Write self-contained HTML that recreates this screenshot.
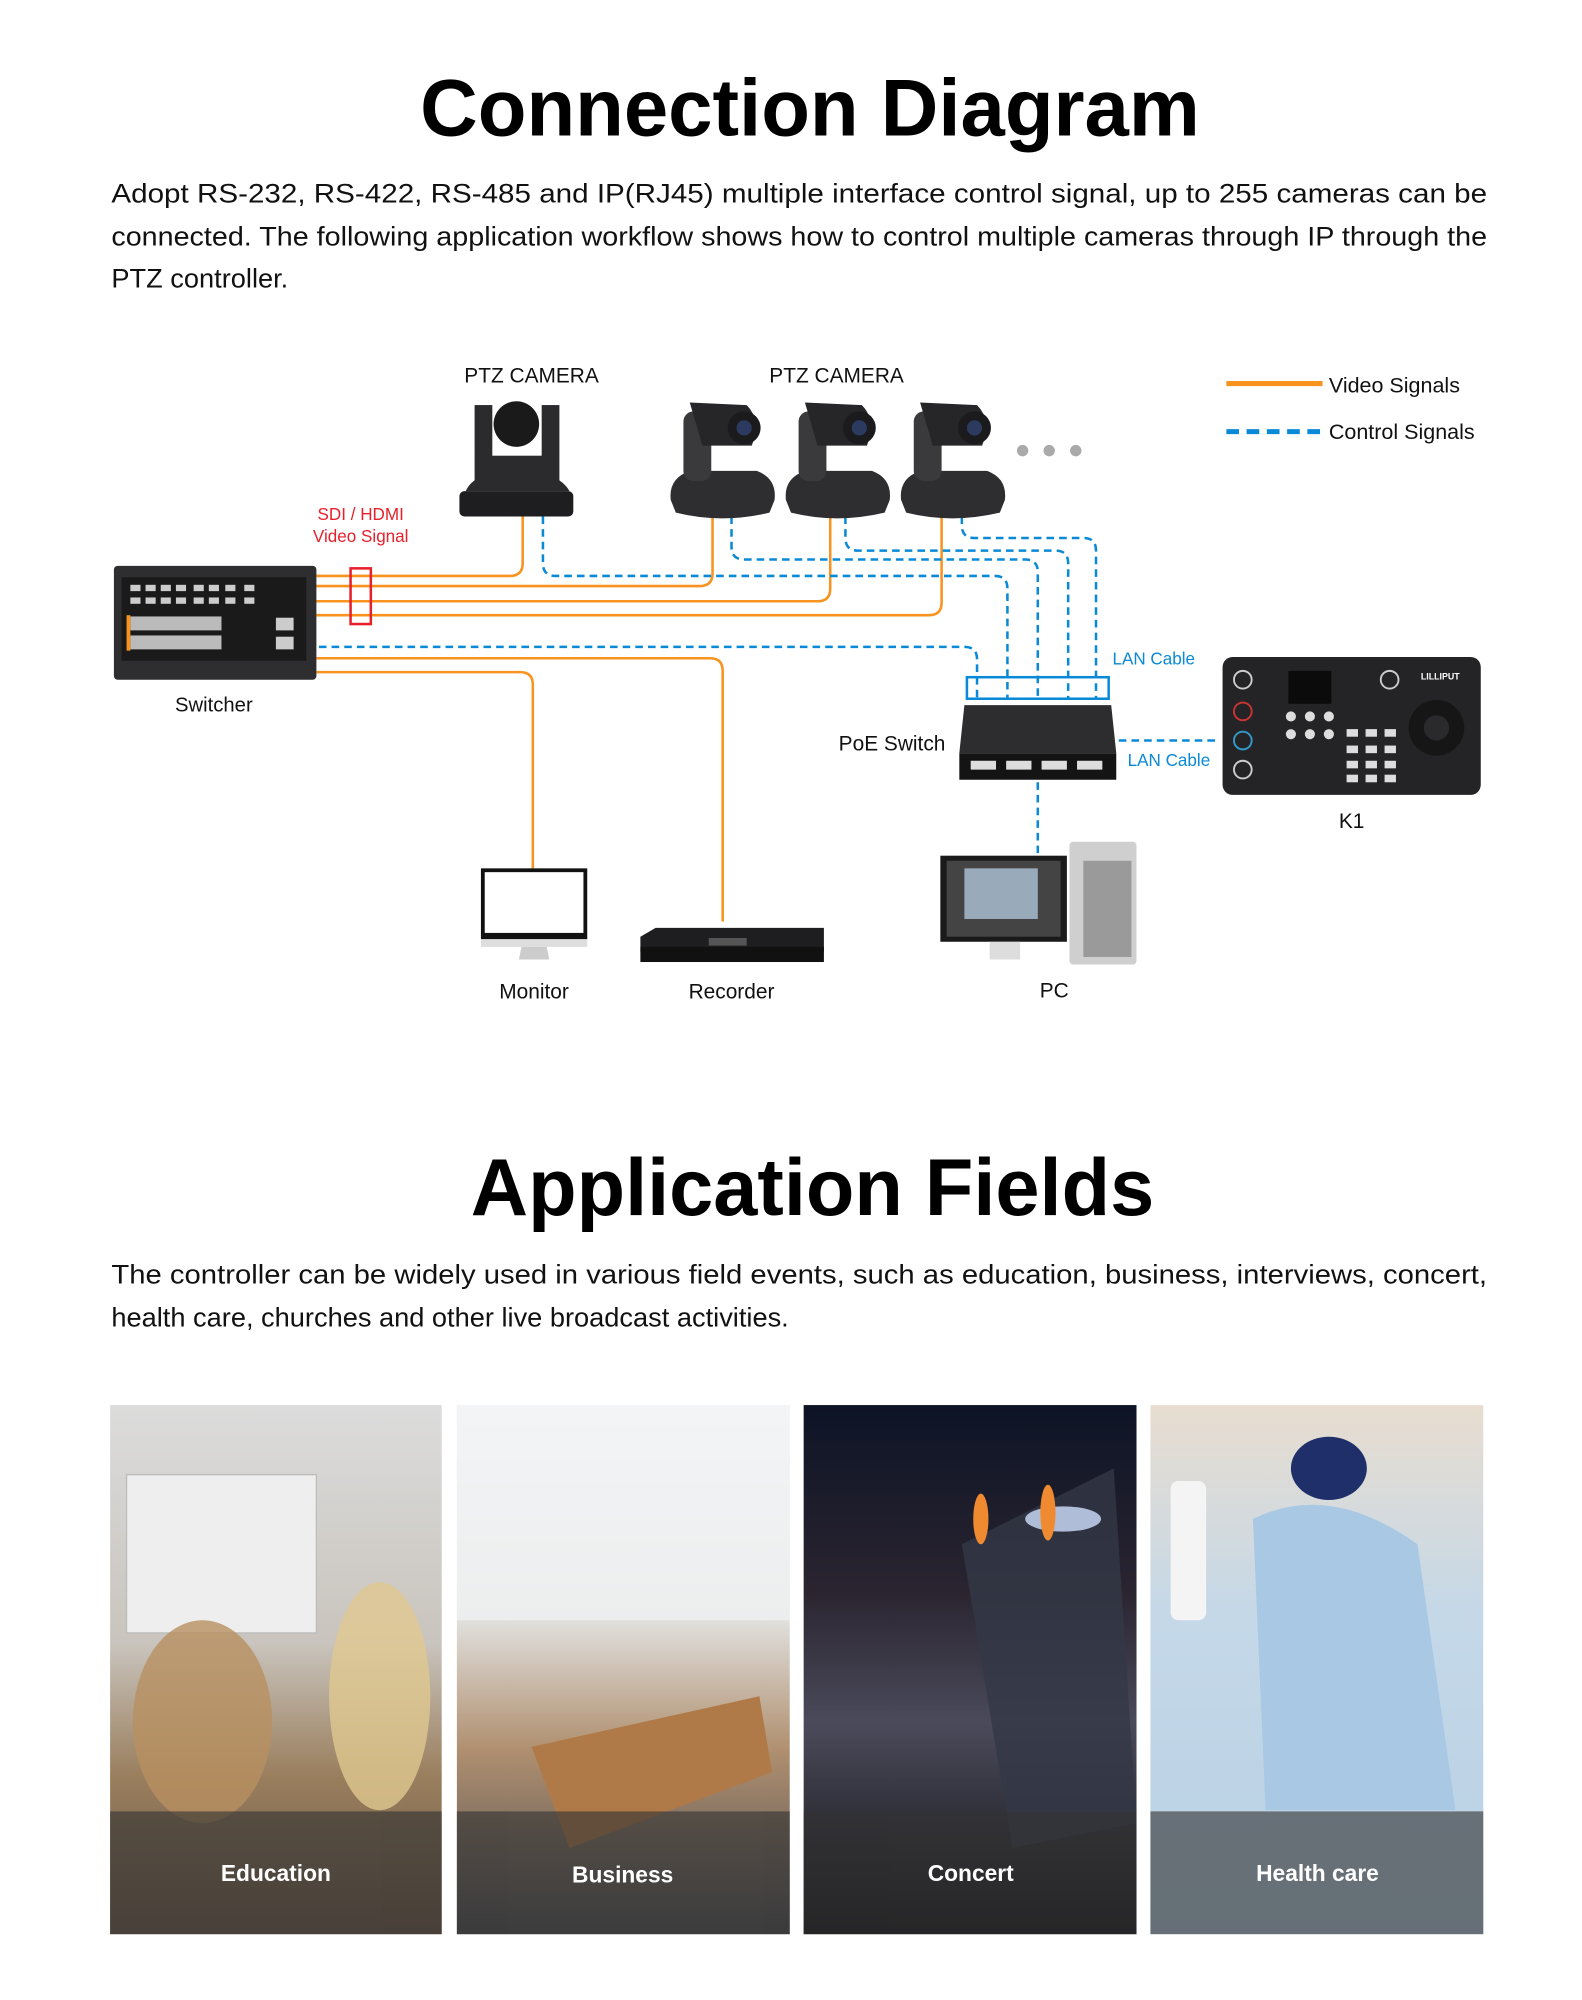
<!DOCTYPE html>
<html><head><meta charset="utf-8"><style>html,body{margin:0;padding:0;background:#fff}svg{display:block}</style></head>
<body>
<svg width="1582" height="2000" viewBox="0 0 1250 1580" preserveAspectRatio="none" xmlns="http://www.w3.org/2000/svg" font-family="Liberation Sans, Arial, sans-serif">
<defs>
<linearGradient id="edu" x1="0" y1="0" x2="0" y2="1"><stop offset="0" stop-color="#dcdcdc"/><stop offset="0.45" stop-color="#c9c4bd"/><stop offset="0.7" stop-color="#9a7f5e"/><stop offset="1" stop-color="#6b5644"/></linearGradient>
<linearGradient id="bus" x1="0" y1="0" x2="0" y2="1"><stop offset="0" stop-color="#f2f3f4"/><stop offset="0.4" stop-color="#e2e2e0"/><stop offset="0.65" stop-color="#b09070"/><stop offset="1" stop-color="#4a4a4e"/></linearGradient>
<linearGradient id="con" x1="0" y1="0" x2="0" y2="1"><stop offset="0" stop-color="#0d1426"/><stop offset="0.35" stop-color="#2a2430"/><stop offset="0.6" stop-color="#4a4a5a"/><stop offset="1" stop-color="#111114"/></linearGradient>
<linearGradient id="hc" x1="0" y1="0" x2="0" y2="1"><stop offset="0" stop-color="#e8ddd0"/><stop offset="0.4" stop-color="#c4d8e8"/><stop offset="1" stop-color="#b8d0e4"/></linearGradient>
</defs>
<rect width="1250" height="1580" fill="#fff"/>
<text x="640" y="107" font-size="64" font-weight="bold" text-anchor="middle" fill="#000" textLength="616" lengthAdjust="spacingAndGlyphs">Connection Diagram</text>
<g font-size="21.5" fill="#111">
<text x="88" y="160" textLength="1087" lengthAdjust="spacingAndGlyphs">Adopt RS-232, RS-422, RS-485 and IP(RJ45) multiple interface control signal, up to 255 cameras can be</text>
<text x="88" y="194" textLength="1087" lengthAdjust="spacingAndGlyphs">connected. The following application workflow shows how to control multiple cameras through IP through the</text>
<text x="88" y="227">PTZ controller.</text>
</g>

<line x1="969" y1="303" x2="1045" y2="303" stroke="#f7931e" stroke-width="4"/>
<line x1="969" y1="341" x2="1045" y2="341" stroke="#0a8ad6" stroke-width="4" stroke-dasharray="10,6"/>
<text x="1050" y="310" font-size="17" fill="#111">Video Signals</text>
<text x="1050" y="347" font-size="17" fill="#111">Control Signals</text>

<g fill="none" stroke="#f7931e" stroke-width="2">
<path d="M250 455 H403 Q413 455 413 445 V408"/>
<path d="M250 463 H553 Q563 463 563 453 V408"/>
<path d="M250 475 H646 Q656 475 656 465 V408"/>
<path d="M250 486 H734 Q744 486 744 476 V408"/>
<path d="M250 520 H561 Q571 520 571 530 V728"/>
<path d="M250 531 H411 Q421 531 421 541 V686"/>
</g>
<g fill="none" stroke="#0a8ad6" stroke-width="2" stroke-dasharray="6,4">
<path d="M429 408 V445 Q429 455 439 455 H786 Q796 455 796 465 V552"/>
<path d="M578 408 V432 Q578 442 588 442 H810 Q820 442 820 452 V552"/>
<path d="M668 408 V425 Q668 435 678 435 H834 Q844 435 844 445 V552"/>
<path d="M760 408 V415 Q760 425 770 425 H856 Q866 425 866 435 V552"/>
<path d="M252 511 H762 Q772 511 772 521 V552"/>
<path d="M884 585 H962"/>
<path d="M820 618 V680"/>
</g>
<rect x="764" y="535" width="112" height="17" fill="none" stroke="#0a8ad6" stroke-width="2"/>
<rect x="277" y="449" width="16" height="44" fill="none" stroke="#e8202a" stroke-width="2"/>
<text x="285" y="411" font-size="13.5" fill="#e8202a" text-anchor="middle">SDI / HDMI</text>
<text x="285" y="428" font-size="13.5" fill="#e8202a" text-anchor="middle">Video Signal</text>

<rect x="90" y="447" width="160" height="90" rx="3" fill="#2e2e30"/>
<rect x="96" y="456" width="146" height="66" fill="#1a1a1b"/>
<g fill="#ccc">
<rect x="103" y="462" width="8" height="5"/><rect x="115" y="462" width="8" height="5"/><rect x="127" y="462" width="8" height="5"/><rect x="139" y="462" width="8" height="5"/><rect x="153" y="462" width="8" height="5"/><rect x="165" y="462" width="8" height="5"/><rect x="178" y="462" width="8" height="5"/><rect x="193" y="462" width="8" height="5"/>
<rect x="103" y="472" width="8" height="5"/><rect x="115" y="472" width="8" height="5"/><rect x="127" y="472" width="8" height="5"/><rect x="139" y="472" width="8" height="5"/><rect x="153" y="472" width="8" height="5"/><rect x="165" y="472" width="8" height="5"/><rect x="178" y="472" width="8" height="5"/><rect x="193" y="472" width="8" height="5"/>
<rect x="103" y="487" width="72" height="11" fill="#bbb"/><rect x="103" y="502" width="72" height="11" fill="#bbb"/>
<rect x="218" y="488" width="14" height="10"/><rect x="218" y="503" width="14" height="10"/>
</g>
<rect x="100" y="486" width="3" height="28" fill="#f7931e"/>
<text x="169" y="562" font-size="16" fill="#111" text-anchor="middle">Switcher</text>

<g fill="#2b2b2d">
<rect x="375" y="320" width="14" height="62"/><rect x="428" y="320" width="14" height="62"/>
<rect x="378" y="360" width="60" height="20"/>
<path d="M368 388 Q375 372 408 372 Q441 372 450 388 Z"/>
<rect x="363" y="388" width="90" height="20" rx="4" fill="#1e1e20"/>
</g>
<circle cx="408" cy="335" r="18" fill="#1a1a1a"/>
<text x="420" y="302" font-size="16.5" fill="#111" text-anchor="middle">PTZ CAMERA</text>
<text x="661" y="302" font-size="16.5" fill="#111" text-anchor="middle">PTZ CAMERA</text>

<g id="cam">
<path d="M530 395 Q528 378 545 372 L598 372 Q614 378 612 395 L608 405 Q570 414 534 405 Z" fill="#2e2e30"/>
<rect x="540" y="325" width="22" height="55" rx="8" fill="#3a3a3c"/>
<path d="M545 318 L590 320 Q602 332 594 352 L555 352 Z" fill="#262628"/>
<circle cx="588" cy="338" r="13" fill="#1b1b1d"/><circle cx="588" cy="338" r="6" fill="#2c3a60"/>
</g>
<use href="#cam" x="91"/>
<use href="#cam" x="182"/>
<circle cx="808" cy="356" r="4.5" fill="#aaa"/><circle cx="829" cy="356" r="4.5" fill="#aaa"/><circle cx="850" cy="356" r="4.5" fill="#aaa"/>

<path d="M762 557 H878 L882 595 H758 Z" fill="#2d2d2f"/>
<rect x="758" y="595" width="124" height="21" fill="#141415"/>
<g fill="#ddd"><rect x="767" y="601" width="20" height="7"/><rect x="795" y="601" width="20" height="7"/><rect x="823" y="601" width="20" height="7"/><rect x="851" y="601" width="20" height="7"/></g>
<text x="747" y="593" font-size="16.5" fill="#111" text-anchor="end">PoE Switch</text>
<text x="879" y="525" font-size="13.5" fill="#0a8ad6">LAN Cable</text>
<text x="891" y="605" font-size="13.5" fill="#0a8ad6">LAN Cable</text>

<rect x="966" y="519" width="204" height="109" rx="8" fill="#242426"/>
<rect x="1018" y="530" width="34" height="26" fill="#0b0b0c"/>
<circle cx="1135" cy="575" r="22" fill="#161617"/><circle cx="1135" cy="575" r="10" fill="#2a2a2c"/>
<g fill="none" stroke="#ccc" stroke-width="1.5"><circle cx="982" cy="537" r="7"/><circle cx="982" cy="562" r="7" stroke="#c33"/><circle cx="982" cy="585" r="7" stroke="#39c"/><circle cx="982" cy="608" r="7"/><circle cx="1098" cy="537" r="7"/></g>
<g fill="#ddd"><circle cx="1020" cy="566" r="4"/><circle cx="1035" cy="566" r="4"/><circle cx="1050" cy="566" r="4"/><circle cx="1020" cy="580" r="4"/><circle cx="1035" cy="580" r="4"/><circle cx="1050" cy="580" r="4"/>
<rect x="1064" y="576" width="9" height="6"/><rect x="1079" y="576" width="9" height="6"/><rect x="1094" y="576" width="9" height="6"/><rect x="1064" y="589" width="9" height="6"/><rect x="1079" y="589" width="9" height="6"/><rect x="1094" y="589" width="9" height="6"/><rect x="1064" y="601" width="9" height="6"/><rect x="1079" y="601" width="9" height="6"/><rect x="1094" y="601" width="9" height="6"/><rect x="1064" y="612" width="9" height="6"/><rect x="1079" y="612" width="9" height="6"/><rect x="1094" y="612" width="9" height="6"/></g>
<text x="1138" y="537" font-size="7" font-weight="bold" fill="#fff" text-anchor="middle">LILLIPUT</text>
<text x="1068" y="654" font-size="16.5" fill="#111" text-anchor="middle">K1</text>

<rect x="380" y="686" width="84" height="56" fill="#111"/>
<rect x="383" y="689" width="78" height="48" fill="#fff"/>
<rect x="380" y="742" width="84" height="6" fill="#ddd"/>
<path d="M412 748 H432 L434 758 H410 Z" fill="#ccc"/>
<text x="422" y="789" font-size="16.5" fill="#111" text-anchor="middle">Monitor</text>

<path d="M506 740 L518 733 H651 V752 H506 Z" fill="#1e1e20"/>
<rect x="506" y="748" width="145" height="12" fill="#111"/>
<rect x="560" y="741" width="30" height="6" fill="#555"/>
<text x="578" y="789" font-size="16.5" fill="#111" text-anchor="middle">Recorder</text>

<rect x="743" y="676" width="100" height="68" fill="#1a1a1a"/>
<rect x="748" y="680" width="90" height="60" fill="#444"/>
<rect x="762" y="686" width="58" height="40" fill="#9ab"/>
<rect x="782" y="744" width="24" height="14" fill="#ddd"/>
<rect x="845" y="665" width="53" height="97" rx="3" fill="#cfcfcf"/>
<rect x="856" y="680" width="38" height="76" fill="#9a9a9a"/>
<text x="833" y="788" font-size="16.5" fill="#111" text-anchor="middle">PC</text>

<text x="642" y="960" font-size="64" font-weight="bold" text-anchor="middle" fill="#000" textLength="540" lengthAdjust="spacingAndGlyphs">Application Fields</text>
<g font-size="21.5" fill="#111">
<text x="88" y="1014" textLength="1087" lengthAdjust="spacingAndGlyphs">The controller can be widely used in various field events, such as education, business, interviews, concert,</text>
<text x="88" y="1048">health care, churches and other live broadcast activities.</text>
</g>

<rect x="87" y="1110" width="262" height="418" fill="url(#edu)"/>
<rect x="100" y="1165" width="150" height="125" fill="#eee" stroke="#bbb"/>
<ellipse cx="160" cy="1360" rx="55" ry="80" fill="#b89060" opacity="0.8"/>
<ellipse cx="300" cy="1340" rx="40" ry="90" fill="#e0c890" opacity="0.8"/>
<rect x="361" y="1110" width="263" height="418" fill="url(#bus)"/>
<path d="M361 1110 L624 1110 L624 1280 L361 1280 Z" fill="#f4f5f6" opacity="0.6"/>
<path d="M420 1380 L600 1340 L610 1400 L450 1460 Z" fill="#b07a48"/>
<rect x="635" y="1110" width="263" height="418" fill="url(#con)"/>
<path d="M760 1220 L880 1160 L898 1440 L800 1460 Z" fill="#333846" opacity="0.8"/>
<ellipse cx="840" cy="1200" rx="30" ry="10" fill="#cfe0ff" opacity="0.8"/>
<ellipse cx="775" cy="1200" rx="6" ry="20" fill="#f08a30"/><ellipse cx="828" cy="1195" rx="6" ry="22" fill="#f08a30"/>
<rect x="909" y="1110" width="263" height="418" fill="url(#hc)"/>
<ellipse cx="1050" cy="1160" rx="30" ry="25" fill="#1f2f6a"/>
<path d="M990 1200 Q1050 1170 1120 1220 L1150 1430 L1000 1430 Z" fill="#a8c8e4"/>
<rect x="925" y="1170" width="28" height="110" rx="6" fill="#f4f4f4"/>

<g fill="#333" opacity="0.62">
<rect x="87" y="1431" width="262" height="97"/><rect x="361" y="1431" width="263" height="97"/><rect x="635" y="1431" width="263" height="97"/><rect x="909" y="1431" width="263" height="97"/>
</g>
<g font-size="18" font-weight="bold" fill="#fff" text-anchor="middle">
<text x="218" y="1486">Education</text><text x="492" y="1487">Business</text><text x="767" y="1486">Concert</text><text x="1041" y="1486">Health care</text>
</g>
</svg>
</body></html>
